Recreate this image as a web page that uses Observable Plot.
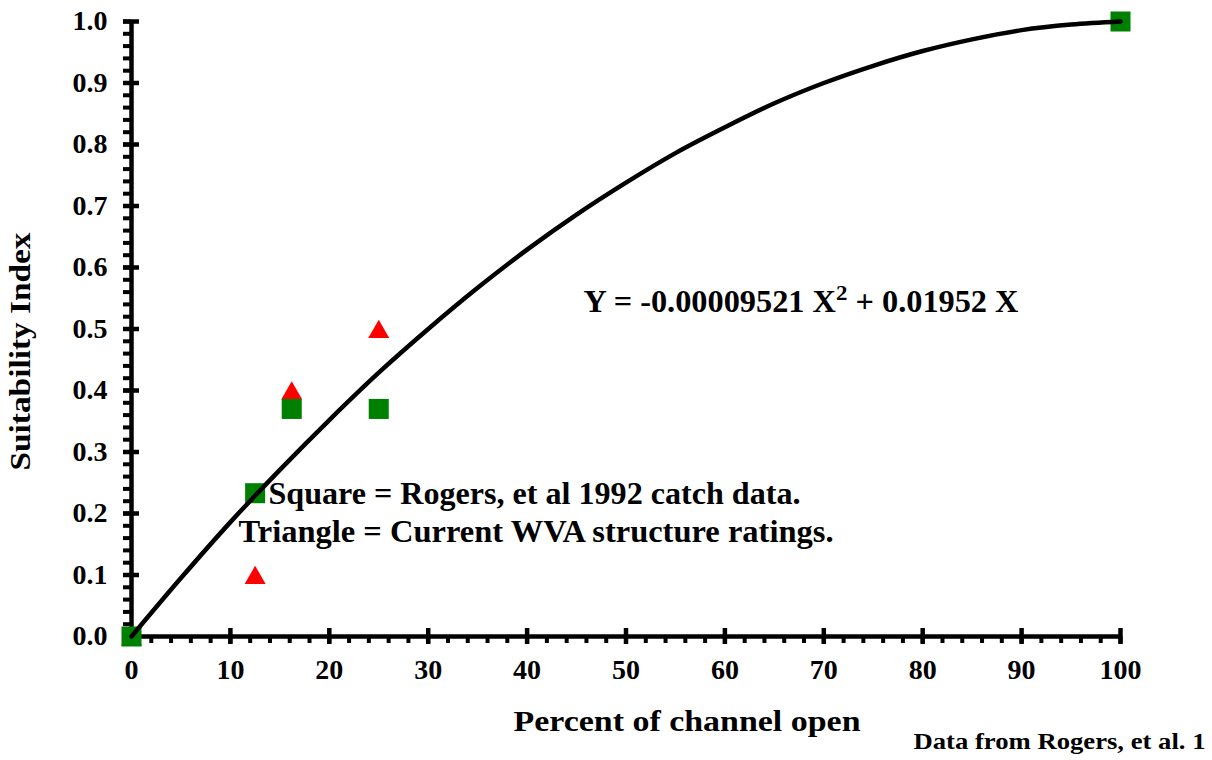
<!DOCTYPE html>
<html>
<head>
<meta charset="utf-8">
<script src="https://cdn.jsdelivr.net/npm/d3@7"></script>
<script src="https://cdn.jsdelivr.net/npm/@observablehq/plot@0.6"></script>
<style>
  html, body { margin: 0; padding: 0; background: #fff; overflow: hidden; }
  svg text { font-family: "Liberation Serif", "Times New Roman", serif; font-weight: bold; }
</style>
</head>
<body>
<div id="chart"></div>
<script>
// ---- data ----
const xTickValues = [0, 10, 20, 30, 40, 50, 60, 70, 80, 90, 100];
const yTickValues = [0, 0.1, 0.2, 0.3, 0.4, 0.5, 0.6, 0.7, 0.8, 0.9, 1.0];
const xMinorTicks = d3.range(0, 100.001, 2);
const yMinorTicks = d3.range(0, 1.0001, 0.02);

// Square = Rogers, et al 1992 catch data
const squareX = [0, 12.5, 16.2, 25, 100];
const squareY = [0, 0.233, 0.37, 0.37, 1.0];

// Triangle = Current WVA structure ratings
const triangleX = [0, 12.5, 16.2, 25];
const triangleY = [0, 0.1, 0.4, 0.5];

// fitted curve
const curveX = [0, 5, 10, 15, 20, 25, 30, 35, 40, 45, 50, 55, 60, 65, 70, 75, 80, 85, 90, 95, 100];
const curveY = [0, 0.095, 0.186, 0.271, 0.352, 0.429, 0.500, 0.567, 0.629, 0.686, 0.738, 0.786, 0.828, 0.867, 0.900, 0.928, 0.952, 0.971, 0.986, 0.995, 1.0];

const xLabel = "Percent of channel open";
const yLabel = "Suitability Index";
const equationText = "Y = -0.00009521 X2 + 0.01952 X";
const legendLines = ["Square = Rogers, et al 1992 catch data.", "Triangle = Current WVA structure ratings."];
const captionText = "Data from Rogers, et al. 1";

// annotation anchors (data coordinates)
const equationPos = {x: 45.7, y: 0.544};
const legendPos = [{x: 13.85, y: 0.2325}, {x: 10.82, y: 0.171}];

// ---- build tables ----
const squares = squareX.map((x, i) => ({x, y: squareY[i]}));
const triangles = triangleX.map((x, i) => ({x, y: triangleY[i]}));
const curve = curveX.map((x, i) => ({x, y: curveY[i]}));
const legend = legendLines.map((t, i) => ({...legendPos[i], t}));

const FONT = "'Liberation Serif', 'Times New Roman', serif";

const chart = Plot.plot({
  width: 1212,
  height: 760,
  marginLeft: 131,
  marginRight: 92,
  marginTop: 21,
  marginBottom: 124,
  style: {fontFamily: FONT, fontWeight: "bold", fontSize: "28px", color: "black", background: "white", overflow: "visible"},
  x: {domain: [0, 100]},
  y: {domain: [0, 1]},
  marks: [
    // axis lines
    Plot.ruleX([0], {stroke: "black", strokeWidth: 4.5}),
    Plot.ruleY([0], {stroke: "black", strokeWidth: 4.5}),
    // y axis: minor (outside), major (crossing), labels
    Plot.axisY({ticks: yMinorTicks, tickSize: 8, stroke: "black", strokeWidth: 4, fill: "none", label: null}),
    Plot.axisY({ticks: yTickValues, tickSize: 16, dx: 8, stroke: "black", strokeWidth: 4.5, fill: "none", label: null}),
    Plot.axisY({ticks: yTickValues, tickSize: 0, tickPadding: 24, tickFormat: d3.format(".1f"), fill: "black", fontSize: 28, fontFamily: FONT, fontWeight: "bold", label: null}),
    // x axis
    Plot.axisX({ticks: xMinorTicks, tickSize: 7, stroke: "black", strokeWidth: 4, fill: "none", label: null}),
    Plot.axisX({ticks: xTickValues, tickSize: 16, dy: -8, stroke: "black", strokeWidth: 4.5, fill: "none", label: null}),
    Plot.axisX({ticks: xTickValues, tickSize: 0, tickPadding: 23, tickFormat: d3.format("d"), fill: "black", fontSize: 28, fontFamily: FONT, fontWeight: "bold", label: null}),
    // data points
    Plot.dot(triangles, {x: "x", y: "y", symbol: "triangle", r: 7.8, fill: "#ff0000", stroke: "none", dy: 3}),
    Plot.dot(squares, {x: "x", y: "y", symbol: "square", r: 11.3, fill: "#008000", stroke: "none"}),
    // fitted curve
    Plot.line(curve, {x: "x", y: "y", stroke: "black", strokeWidth: 4.5, curve: "catmull-rom"}),
    // annotations
    Plot.text([equationText], {x: () => equationPos.x, y: () => equationPos.y, text: d => d, textAnchor: "start", fontSize: 31, fontFamily: FONT, fontWeight: "bold", fill: "black"}),
    Plot.text(legend, {x: "x", y: "y", text: "t", textAnchor: "start", fontSize: 32, fontFamily: FONT, fontWeight: "bold", fill: "black"}),
    // axis titles and caption
    Plot.text([xLabel], {frameAnchor: "bottom", dx: 61, dy: 94, fontSize: 30, fontFamily: FONT, fontWeight: "bold", fill: "black"}),
    Plot.text([yLabel], {frameAnchor: "left", rotate: -90, textAnchor: "start", dx: -111, dy: 141.5, fontSize: 30, fontFamily: FONT, fontWeight: "bold", fill: "black"}),
    Plot.text([captionText], {frameAnchor: "bottom-right", textAnchor: "start", dx: -207, dy: 112, fontSize: 23, fontFamily: FONT, fontWeight: "bold", fill: "black"})
  ]
});

// post-process: superscript and widths matching the reference's wide type
const targetWidths = new Map([
  [legendLines[0], 532],
  [legendLines[1], 595],
  [xLabel, 347],
  [yLabel, 238],
  [captionText, 292]
]);
chart.querySelectorAll("text").forEach(t => {
  const s = t.textContent;
  if (s === equationText) {
    const ns = "http://www.w3.org/2000/svg";
    t.textContent = "";
    const a = document.createElementNS(ns, "tspan"); a.textContent = "Y = -0.00009521 X";
    const b = document.createElementNS(ns, "tspan"); b.textContent = "2"; b.setAttribute("font-size", "22"); b.setAttribute("dy", "-12");
    const c = document.createElementNS(ns, "tspan"); c.textContent = " + 0.01952 X"; c.setAttribute("dy", "12");
    t.append(a, b, c);
    t.setAttribute("textLength", 435);
    t.setAttribute("lengthAdjust", "spacingAndGlyphs");
  } else if (targetWidths.has(s)) {
    t.setAttribute("textLength", targetWidths.get(s));
    t.setAttribute("lengthAdjust", "spacingAndGlyphs");
  }
});

document.getElementById("chart").append(chart);
</script>
</body>
</html>
